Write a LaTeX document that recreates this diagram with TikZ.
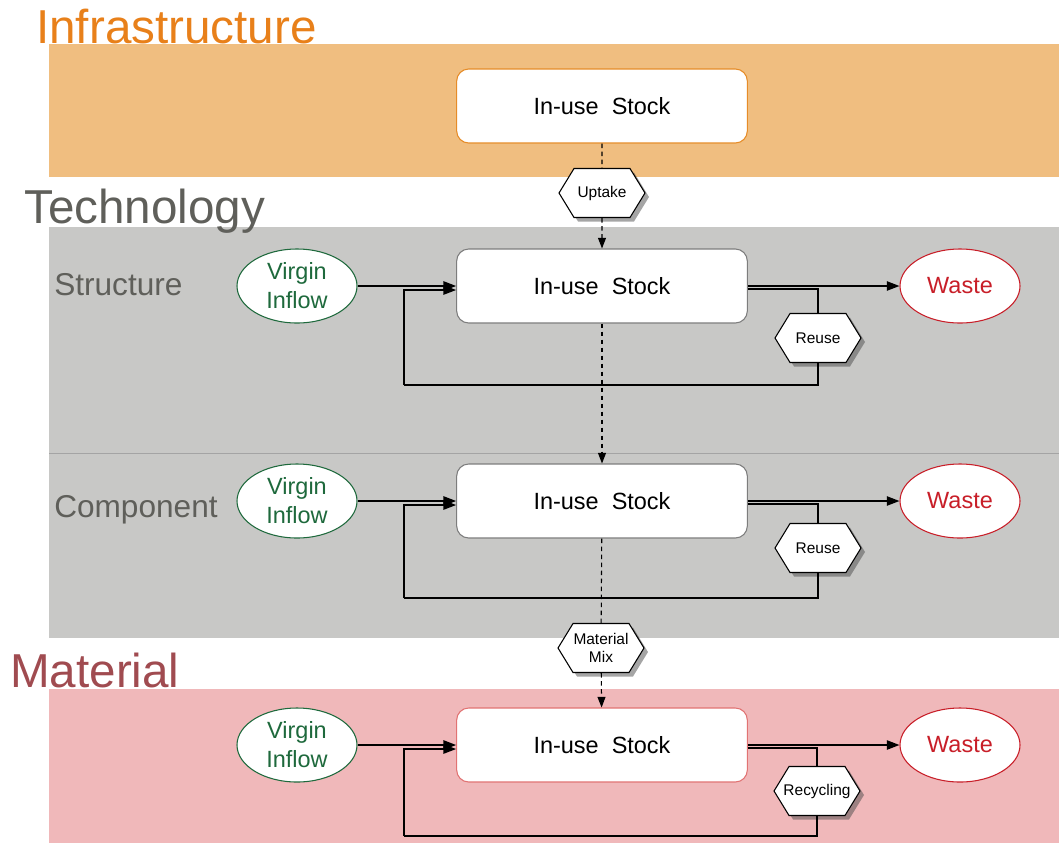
\documentclass[tikz,border=0pt]{standalone}
\usepackage{fontspec}
\setmainfont{Liberation Sans}
\usetikzlibrary{calc, positioning}
\usetikzlibrary{arrows.meta}
\usetikzlibrary{shapes.geometric, shapes.symbols}
\usetikzlibrary{shadows}

\definecolor{infraBand}{RGB}{240,190,128}
\definecolor{infraText}{RGB}{232,128,26}
\definecolor{infraLine}{RGB}{230,140,40}
\definecolor{techBand}{RGB}{200,200,198}
\definecolor{techText}{RGB}{95,95,90}
\definecolor{techLine}{RGB}{125,125,125}
\definecolor{matBand}{RGB}{240,184,186}
\definecolor{matText}{RGB}{160,75,80}
\definecolor{matLine}{RGB}{225,115,115}
\definecolor{inflowGreen}{RGB}{30,105,60}
\definecolor{wasteRed}{RGB}{200,30,40}

\tikzset{
  stock/.style={draw, fill=white, rounded corners=9pt, line width=0.8pt,
    minimum width=218pt, minimum height=55.5pt, inner sep=0pt,
    font=\fontsize{17.6}{21}\selectfont},
  inflow/.style={ellipse, draw=inflowGreen, fill=white, text=inflowGreen,
    line width=0.8pt, minimum width=90pt, minimum height=55.5pt,
    inner sep=0pt, align=center, font=\fontsize{17.6}{21.75}\selectfont},
  waste/.style={ellipse, draw=wasteRed, fill=white, text=wasteRed,
    line width=0.8pt, minimum width=90pt, minimum height=55.5pt,
    inner sep=0pt, font=\fontsize{17.6}{21}\selectfont},
  hexa/.style={signal, signal to=east and west, signal pointer angle=117,
    draw, fill=white, line width=0.8pt, minimum width=64.5pt,
    minimum height=36.75pt, inner sep=0pt, align=center,
    font=\fontsize{11.6}{13.5}\selectfont,
    drop shadow={fill=black!70, opacity=0.5, shadow xshift=3pt,
      shadow yshift=-3pt}},
  flow/.style={line width=1.1pt, -{Triangle[length=9.5pt, width=7pt]}},
  link/.style={line width=1.1pt},
  dlink/.style={line width=0.8pt, dash pattern=on 3.5pt off 2.5pt},
  dflow/.style={dlink, -{Triangle[length=8pt, width=6pt]}},
  bandtitle/.style={anchor=base west, inner sep=0pt,
    font=\fontsize{35.7}{40}\selectfont},
  level/.style={anchor=base west, inner sep=0pt, text=techText,
    font=\fontsize{23.7}{28}\selectfont},
}

\begin{document}
\begin{tikzpicture}[x=0.75pt, y=-0.75pt]
\useasboundingbox (0,0) rectangle (1059,843);

% bands
\fill[infraBand] (49,44) rectangle (1059,177);
\fill[techBand] (49,227) rectangle (1059,638);
\draw[techLine!70, line width=0.5pt] (49,453) -- (1059,453);
\fill[matBand] (49,689) rectangle (1059,843);

\node[bandtitle, text=infraText] (tInfra) at (36,43) {Infrastructure};
\node[bandtitle, text=techText] (tTech) at (24,223) {Technology};
\node[bandtitle, text=matText] (tMat) at (10,687) {Material};
\node[level] (tStruct) at (54,295) {Structure};
\node[level] (tComp) at (54,517) {Component};

% stocks
\node[stock, draw=infraLine] (iS) at (602,106) {In-use\ \ Stock};
\node[stock, draw=techLine] (sS) at (602,286) {In-use\ \ Stock};
\node[stock, draw=techLine] (cS) at (602,501) {In-use\ \ Stock};
\node[stock, draw=matLine] (mS) at (602,745) {In-use\ \ Stock};

\node[inflow] (vS) at (297,286) {Virgin\\Inflow};
\node[inflow] (vC) at (297,501) {Virgin\\Inflow};
\node[inflow] (vM) at (297,745) {Virgin\\Inflow};

\node[waste] (wS) at (960,286) {Waste};
\node[waste] (wC) at (960,501) {Waste};
\node[waste] (wM) at (960,745) {Waste};

\node[hexa] (up) at (602,193) {Uptake};
\node[hexa] (mix) at (601,648) {Material\\Mix};
\node[hexa] (rS) at (818,338) {Reuse};
\node[hexa] (rC) at (818,548) {Reuse};
\node[hexa, inner xsep=-5pt] (rec) at (817,791) {Recycling};

\coordinate (lS) at (404,385);
\coordinate (lC) at (404,598);
\coordinate (lM) at (404,836);

% between levels
\draw[dlink] (iS) -- (up);
\draw[dflow] (up) -- (sS);
\draw[dflow] (sS) -- (cS);
\draw[dlink] (cS) -- (mix);
\draw[dflow] (mix) -- (mS);

% structure
\draw[flow] (vS) -- (sS);
\draw[flow] (sS) -- (wS);
\draw[link] ($(sS.east)+(0,3)$) -| (rS.north);
\draw[link] (rS.south) |- (lS);
\draw[flow] (lS) |- ($(sS.west)+(0,4)$);

% component
\draw[flow] (vC) -- (cS);
\draw[flow] (cS) -- (wC);
\draw[link] ($(cS.east)+(0,3)$) -| (rC.north);
\draw[link] (rC.south) |- (lC);
\draw[flow] (lC) |- ($(cS.west)+(0,4)$);

% material
\draw[flow] (vM) -- (mS);
\draw[flow] (mS) -- (wM);
\draw[link] ($(mS.east)+(0,3)$) -| (rec.north);
\draw[link] (rec.south) |- (lM);
\draw[flow] (lM) |- ($(mS.west)+(0,4)$);
\end{tikzpicture}
\end{document}
